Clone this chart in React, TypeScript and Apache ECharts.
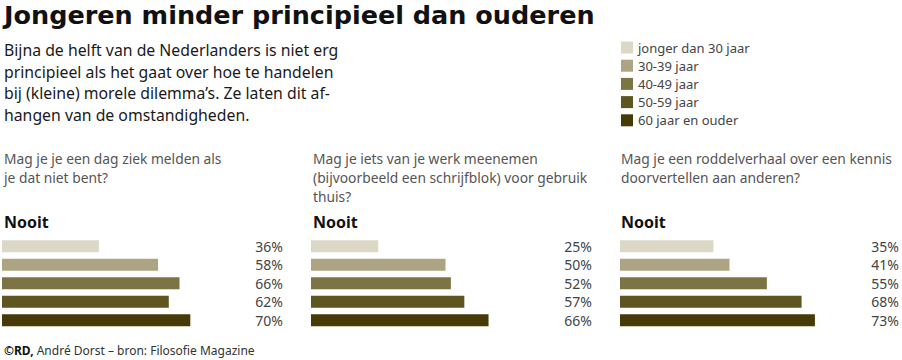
import React, { useEffect, useRef } from "react";
import * as echarts from "echarts";

const title = "Jongeren minder principieel dan ouderen";
const introLines = [
  "Bijna de helft van de Nederlanders is niet erg",
  "principieel als het gaat over hoe te handelen",
  "bij (kleine) morele dilemma’s. Ze laten dit af-",
  "hangen van de omstandigheden.",
];
const ageGroups = ["jonger dan 30 jaar", "30-39 jaar", "40-49 jaar", "50-59 jaar", "60 jaar en ouder"];
const questions = [
  ["Mag je je een dag ziek melden als", "je dat niet bent?"],
  ["Mag je iets van je werk meenemen", "(bijvoorbeeld een schrijfblok) voor gebruik", "thuis?"],
  ["Mag je een roddelverhaal over een kennis", "doorvertellen aan anderen?"],
];
const ziekMelden = [36, 58, 66, 62, 70];
const werkMeenemen = [25, 50, 52, 57, 66];
const roddelen = [35, 41, 55, 68, 73];
const panelValues = [ziekMelden, werkMeenemen, roddelen];
const answerLabel = "Nooit";
const footerBold = "©RD,";
const footerRest = " André Dorst – bron: Filosofie Magazine";

const colors = ["#dbd8c6", "#aca483", "#7d7446", "#5e5520", "#463a06"];
const FONT = "'Noto Sans', 'Open Sans', sans-serif";
const TITLE_FONT = "'DejaVu Sans', 'Noto Sans', sans-serif";

export default function App() {
  const ref = useRef<HTMLDivElement>(null);
  useEffect(() => {
    document.body.style.margin = "0";
    if (!ref.current) return;
    const chart = echarts.init(ref.current, undefined, { renderer: "svg" });
    const barLeft = [2, 311, 620];
    const textLeft = [4, 313, 621];
    const gridTop = 237;
    const gridH = 92.5;
    const gridW = 269;

    const grids: any[] = [];
    const xAxes: any[] = [];
    const yAxes: any[] = [];
    const series: any[] = [];
    panelValues.forEach((vals, p) => {
      grids.push({ left: barLeft[p], top: gridTop, width: gridW, height: gridH, containLabel: false });
      xAxes.push({ type: "value", gridIndex: p, min: 0, max: 100, show: false });
      yAxes.push({
        type: "category", gridIndex: p, data: ageGroups, inverse: true, show: false,
      });
      yAxes.push({
        type: "category", gridIndex: p, data: vals.map((v) => v + "%"), inverse: true,
        position: "right",
        axisLine: { show: false }, axisTick: { show: false }, splitLine: { show: false },
        axisLabel: { align: "right", margin: 12, fontSize: 14, color: "#444", fontFamily: FONT },
      });
      ageGroups.forEach((g, i) => {
        series.push({
          type: "bar", name: g, xAxisIndex: p, yAxisIndex: p * 2,
          data: vals.map((v, j) => (j === i ? v : null)),
          barWidth: 12, barGap: "-100%",
          itemStyle: { color: colors[i] },
          silent: true,
        });
      });
    });

    const graphic: any[] = [];
    graphic.push({
      type: "text", x: 4, y: 15,
      style: { text: title, font: `bold 25.5px ${TITLE_FONT}`, fill: "#111", textVerticalAlign: "middle" },
    });
    introLines.forEach((t, i) => {
      graphic.push({
        type: "text", x: 4, y: 50 + i * 21.7,
        style: { text: t, font: `15.8px ${FONT}`, fill: "#1a1a1a", textVerticalAlign: "middle" },
      });
    });
    questions.forEach((lines, p) => {
      lines.forEach((t, i) => {
        graphic.push({
          type: "text", x: textLeft[p], y: 158 + i * 19.3,
          style: { text: t, font: `13.8px ${FONT}`, fill: "#555", textVerticalAlign: "middle" },
        });
      });
      graphic.push({
        type: "text", x: textLeft[p], y: 222,
        style: { text: answerLabel, font: `bold 16px ${FONT}`, fill: "#111", textVerticalAlign: "middle" },
      });
    });
    graphic.push({
      type: "text", x: 4, y: 350,
      style: {
        text: `{b|${footerBold}}{r|${footerRest}}`,
        textVerticalAlign: "middle",
        rich: {
          b: { font: `bold 12px ${FONT}`, fill: "#111" },
          r: { font: `12px ${FONT}`, fill: "#333" },
        },
      },
    });

    chart.setOption({
      animation: false,
      backgroundColor: "#fff",
      grid: grids,
      xAxis: xAxes,
      yAxis: yAxes,
      series,
      legend: {
        data: ageGroups,
        orient: "vertical",
        left: 616,
        top: 36,
        itemWidth: 12,
        itemHeight: 12,
        itemGap: 5.2,
        icon: "rect",
        selectedMode: false,
        textStyle: { fontSize: 13, color: "#444", fontFamily: FONT, padding: [0, 0, 0, 0] },
      },
      graphic,
    });
    return () => chart.dispose();
  }, []);
  return <div ref={ref} style={{ width: 902, height: 360 }} />;
}
